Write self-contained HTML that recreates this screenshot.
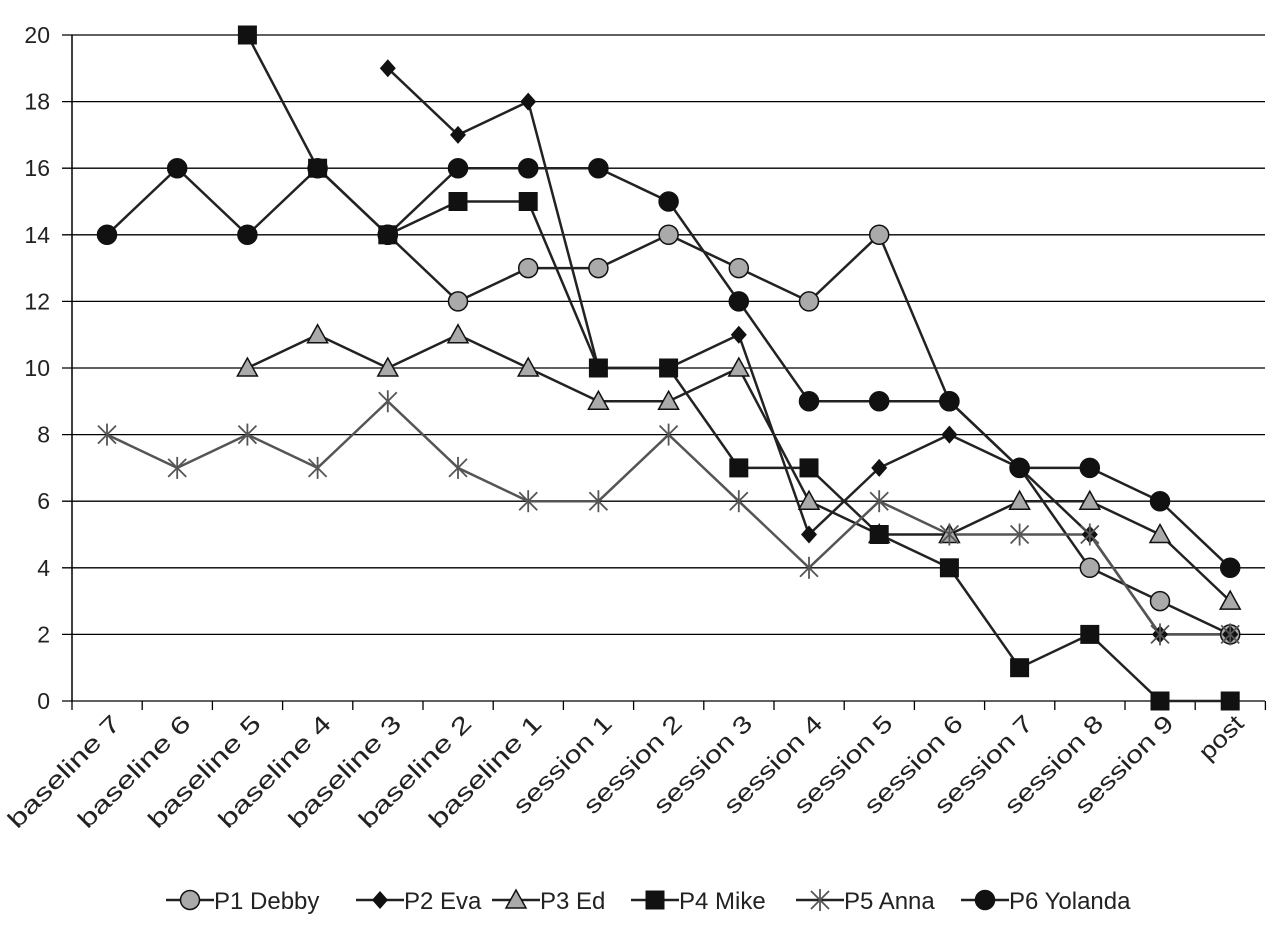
<!DOCTYPE html>
<html><head><meta charset="utf-8"><style>body{margin:0;background:#fff}svg{display:block}text{font-family:"Liberation Sans",sans-serif;fill:#222}</style></head>
<body>
<svg id="s" width="1287" height="936" xmlns="http://www.w3.org/2000/svg"></svg>
<script>
const s=document.getElementById('s');
const X=i=>107+i*70.2, Y=v=>701-v*33.3;
let h='';
for(let v=0;v<=20;v+=2){h+=`<line x1="62" x2="1265" y1="${Y(v)}" y2="${Y(v)}" stroke="#000" stroke-width="1.3"/>`;h+=`<text x="50" y="${Y(v)+8}" font-size="23" text-anchor="end">${v}</text>`;}
h+=`<line x1="72" x2="72" y1="35" y2="701" stroke="#000" stroke-width="1.5"/>`;
for(let i=0;i<=17;i++){const x=72+i*70.2;h+=`<line x1="${x}" x2="${x}" y1="701" y2="710" stroke="#000" stroke-width="1.3"/>`;}
const cats=['baseline 7','baseline 6','baseline 5','baseline 4','baseline 3','baseline 2','baseline 1','session 1','session 2','session 3','session 4','session 5','session 6','session 7','session 8','session 9','post'];
cats.forEach((c,i)=>{const L=c.startsWith('b')?148:c.startsWith('s')?128:52;h+=`<text transform="translate(${X(i)+15},${725}) rotate(-45)" font-size="24" textLength="${L}" lengthAdjust="spacingAndGlyphs" text-anchor="end">${c}</text>`;});
const N=null;
const series=[
['P1 Debby','circ','#aaa',[N,N,N,N,14,12,13,13,14,13,12,14,9,7,4,3,2]],
['P2 Eva','dia','#111',[N,N,N,N,19,17,18,10,10,11,5,7,8,7,5,2,2]],
['P3 Ed','tri','#aaa',[N,N,10,11,10,11,10,9,9,10,6,5,5,6,6,5,3]],
['P4 Mike','sq','#111',[N,N,20,16,14,15,15,10,10,7,7,5,4,1,2,0,0]],
['P5 Anna','star','#555',[8,7,8,7,9,7,6,6,8,6,4,6,5,5,5,2,2]],
['P6 Yolanda','circ','#111',[14,16,14,16,14,16,16,16,15,12,9,9,9,7,7,6,4]]];
function mk(t,x,y,f){
 if(t=='circ')return `<circle cx="${x}" cy="${y}" r="9.5" fill="${f}" stroke="#111" stroke-width="1.5"/>`;
 if(t=='dia')return `<polygon points="${x},${y-9} ${x+8},${y} ${x},${y+9} ${x-8},${y}" fill="#111"/>`;
 if(t=='tri')return `<polygon points="${x},${y-10} ${x+10},${y+8} ${x-10},${y+8}" fill="${f}" stroke="#111" stroke-width="1.5"/>`;
 if(t=='sq')return `<rect x="${x-9.5}" y="${y-9.5}" width="19" height="19" fill="#111"/>`;
 return `<g stroke="${f}" stroke-width="1.8"><line x1="${x-9}" y1="${y-9}" x2="${x+9}" y2="${y+9}"/><line x1="${x+9}" y1="${y-9}" x2="${x-9}" y2="${y+9}"/><line x1="${x}" y1="${y-11}" x2="${x}" y2="${y+11}"/></g>`;
}
series.forEach(([n,t,f,d])=>{
 const pts=d.map((v,i)=>v==N?null:`${X(i)},${Y(v)}`).filter(p=>p).join(' ');
 h+=`<polyline points="${pts}" fill="none" stroke="${t=='star'?'#555':'#222'}" stroke-width="2.5"/>`;
});
series.forEach(([n,t,f,d])=>{d.forEach((v,i)=>{if(v!=N)h+=mk(t,X(i),Y(v),f);});});
const lx=[190,380,516,655,820,985];
series.forEach(([n,t,f,d],k)=>{const x=lx[k];h+=`<line x1="${x-24}" x2="${x+24}" y1="900" y2="900" stroke="#222" stroke-width="2.5"/>`+mk(t,x,900,f)+`<text x="${x+24}" y="909" font-size="24">${n}</text>`;});
s.innerHTML=h;
</script>
</body></html>
